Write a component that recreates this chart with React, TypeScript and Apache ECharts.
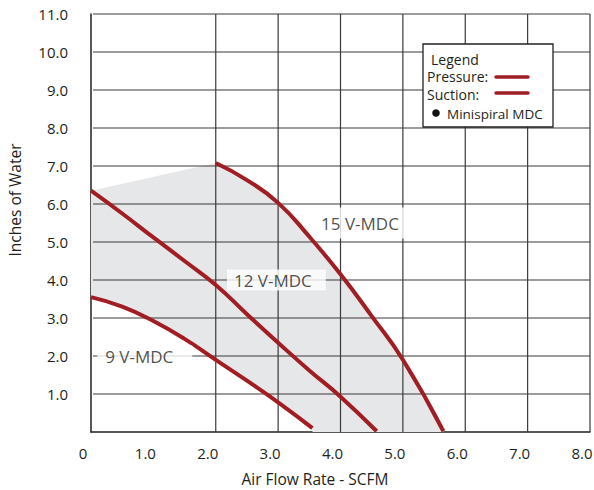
import React, { useEffect, useRef } from 'react';
import * as echarts from 'echarts';

// Axis ticks
const xTickValues = [0, 1, 2, 3, 4, 5, 6, 7, 8];
const yTickValues = [0, 1, 2, 3, 4, 5, 6, 7, 8, 9, 10, 11];
// Gridlines drawn (note: no vertical line at 1.0 in the original)
const gridXValues = [2, 3, 4, 5, 6, 7, 8];
const gridYValues = [1, 2, 3, 4, 5, 6, 7, 8, 9, 10, 11];

// Pump curves: [SCFM, inches of water]
const curve9V = [[0, 3.55], [0.5, 3.3], [1.0, 2.92], [1.5, 2.45], [2.0, 1.9], [2.5, 1.35], [3.0, 0.78], [3.55, 0.1]];
const curve12V = [[0, 6.35], [0.5, 5.75], [1.0, 5.12], [1.5, 4.5], [2.0, 3.87], [2.5, 3.1], [3.0, 2.35], [3.5, 1.62], [4.0, 0.93], [4.58, 0.02]];
const curve15V = [[2.0, 7.08], [2.5, 6.63], [3.0, 6.03], [3.5, 5.14], [4.0, 4.15], [4.5, 3.05], [5.0, 1.9], [5.65, 0.02]];

// Curve labels
const curveLabelNames = ['9 V-MDC', '12 V-MDC', '15 V-MDC'];
const curveLabelX = [0.1, 2.18, 3.56];
const curveLabelY = [2.0, 4.0, 5.5];

const legendTitle = 'Legend';
const legendRows = ['Pressure:', 'Suction:', 'Minispiral MDC'];
const xAxisTitle = 'Air Flow Rate - SCFM';
const yAxisTitle = 'Inches of Water';

const RED = '#a11d24';
const TEXT = '#231f20';
const GRID = '#3a3a3a';
const FONT = '"Open Sans", "Noto Sans", sans-serif';

export default function App() {
  const ref = useRef<HTMLDivElement>(null);

  useEffect(() => {
    const chart = echarts.init(ref.current!, null, { renderer: 'svg' });

    const fillPolygon = [
      [0, curve12V[0][1]],
      ...curve15V,
      [curve15V[curve15V.length - 1][0], 0],
      [curve9V[curve9V.length - 1][0], 0],
      ...curve9V.slice().reverse(),
    ];

    const labelPaddings = [[2, 19, 2, 8], [2, 14, 2, 7], [7, 7, 7, 8]];
    const labelData = curveLabelNames.map((name, i) => ({
      value: [curveLabelX[i], curveLabelY[i], name],
      label: { padding: labelPaddings[i] },
    }));

    const curveSeries = (name: string, data: number[][]) => ({
      name,
      type: 'line',
      data,
      smooth: true,
      symbol: 'none',
      z: 3,
      lineStyle: { color: RED, width: 4 },
      silent: true,
    });

    const option: any = {
      animation: false,
      grid: { left: 91, right: 4, top: 14, bottom: 58, outerBoundsMode: 'none', containLabel: false },
      xAxis: {
        type: 'value',
        min: 0,
        max: 8,
        interval: 1,
        axisLine: { show: true, onZero: false, lineStyle: { color: TEXT, width: 1.5 } },
        axisTick: { show: false },
        splitLine: { show: false },
        axisLabel: {
          margin: 13,
          color: TEXT,
          fontSize: 15,
          fontFamily: FONT,
          hideOverlap: false,
          padding: [0, 16, 0, 0],
          formatter: (v: number) => (v === 0 ? '0' : v.toFixed(1)),
        },
      },
      yAxis: {
        type: 'value',
        min: 0,
        max: 11,
        interval: 1,
        axisLine: { show: true, onZero: false, lineStyle: { color: TEXT, width: 1.5 } },
        axisTick: { show: false },
        splitLine: { show: false },
        axisLabel: {
          margin: 23,
          color: TEXT,
          fontSize: 15,
          fontFamily: FONT,
          formatter: (v: number) => (v === 0 ? '' : v.toFixed(1)),
        },
      },
      series: [
        {
          type: 'custom',
          z: 1,
          silent: true,
          data: [[0, 0]],
          renderItem: (_params: any, api: any) => ({
            type: 'polygon',
            shape: { points: fillPolygon.map((p) => api.coord(p)) },
            style: { fill: '#e6e7e8' },
          }),
        },
        {
          type: 'custom',
          z: 2,
          silent: true,
          data: [[0, 0]],
          renderItem: (_params: any, api: any) => {
            const children: any[] = [];
            gridYValues.forEach((v) => {
              const a = api.coord([0, v]);
              const b = api.coord([8, v]);
              children.push({ type: 'line', shape: { x1: a[0] + 2, y1: a[1], x2: b[0], y2: b[1] }, style: { stroke: GRID, lineWidth: 1.2 } });
            });
            gridXValues.forEach((v) => {
              const a = api.coord([v, 0]);
              const b = api.coord([v, 11]);
              children.push({ type: 'line', shape: { x1: a[0], y1: a[1], x2: b[0], y2: b[1] }, style: { stroke: GRID, lineWidth: 1.2 } });
            });
            return { type: 'group', children };
          },
        },
        curveSeries('9 V-MDC', curve9V),
        curveSeries('12 V-MDC', curve12V),
        curveSeries('15 V-MDC', curve15V),
        {
          type: 'scatter',
          z: 10,
          silent: true,
          symbolSize: 0,
          data: labelData,
          label: {
            show: true,
            position: 'right',
            distance: 0,
            formatter: (p: any) => p.value[2],
            color: TEXT,
            fontSize: 17,
            fontFamily: FONT,
            backgroundColor: '#ffffff',
          },
        },
      ],
      graphic: [
        {
          type: 'text',
          x: 315,
          y: 479,
          z: 100,
          style: { text: xAxisTitle, fill: TEXT, font: `15.5px ${FONT}`, align: 'center', verticalAlign: 'middle' },
        },
        {
          type: 'text',
          x: 15,
          y: 200,
          rotation: Math.PI / 2,
          z: 100,
          style: { text: yAxisTitle, fill: TEXT, font: `15.5px ${FONT}`, align: 'center', verticalAlign: 'middle' },
        },
        {
          type: 'group',
          z: 100,
          children: [
            { type: 'rect', z: 100, shape: { x: 423, y: 44, width: 130, height: 83 }, style: { fill: '#fff', stroke: TEXT, lineWidth: 1.3 } },
            { type: 'text', z: 101, x: 431, y: 59, style: { text: legendTitle, fill: TEXT, font: `14px ${FONT}`, verticalAlign: 'middle', lineHeight: 14 } },
            { type: 'text', z: 101, x: 427, y: 76.5, style: { text: legendRows[0], fill: TEXT, font: `14px ${FONT}`, verticalAlign: 'middle', lineHeight: 14 } },
            { type: 'line', z: 101, shape: { x1: 496, y1: 77, x2: 528, y2: 77 }, style: { stroke: RED, lineWidth: 3.5, lineCap: 'round' } },
            { type: 'text', z: 101, x: 427, y: 94, style: { text: legendRows[1], fill: TEXT, font: `14px ${FONT}`, verticalAlign: 'middle', lineHeight: 14 } },
            { type: 'line', z: 101, shape: { x1: 496, y1: 93, x2: 528, y2: 93 }, style: { stroke: RED, lineWidth: 3.5, lineCap: 'round' } },
            { type: 'circle', z: 101, shape: { cx: 436, cy: 113, r: 3.8 }, style: { fill: '#111' } },
            { type: 'text', z: 101, x: 447, y: 114, style: { text: legendRows[2], fill: TEXT, font: `13.5px ${FONT}`, verticalAlign: 'middle', lineHeight: 14 } },
          ],
        },
      ],
    };

    chart.setOption(option);
    return () => chart.dispose();
  }, []);

  return <div ref={ref} style={{ position: 'absolute', left: 0, top: 0, width: 594, height: 490 }} />;
}
